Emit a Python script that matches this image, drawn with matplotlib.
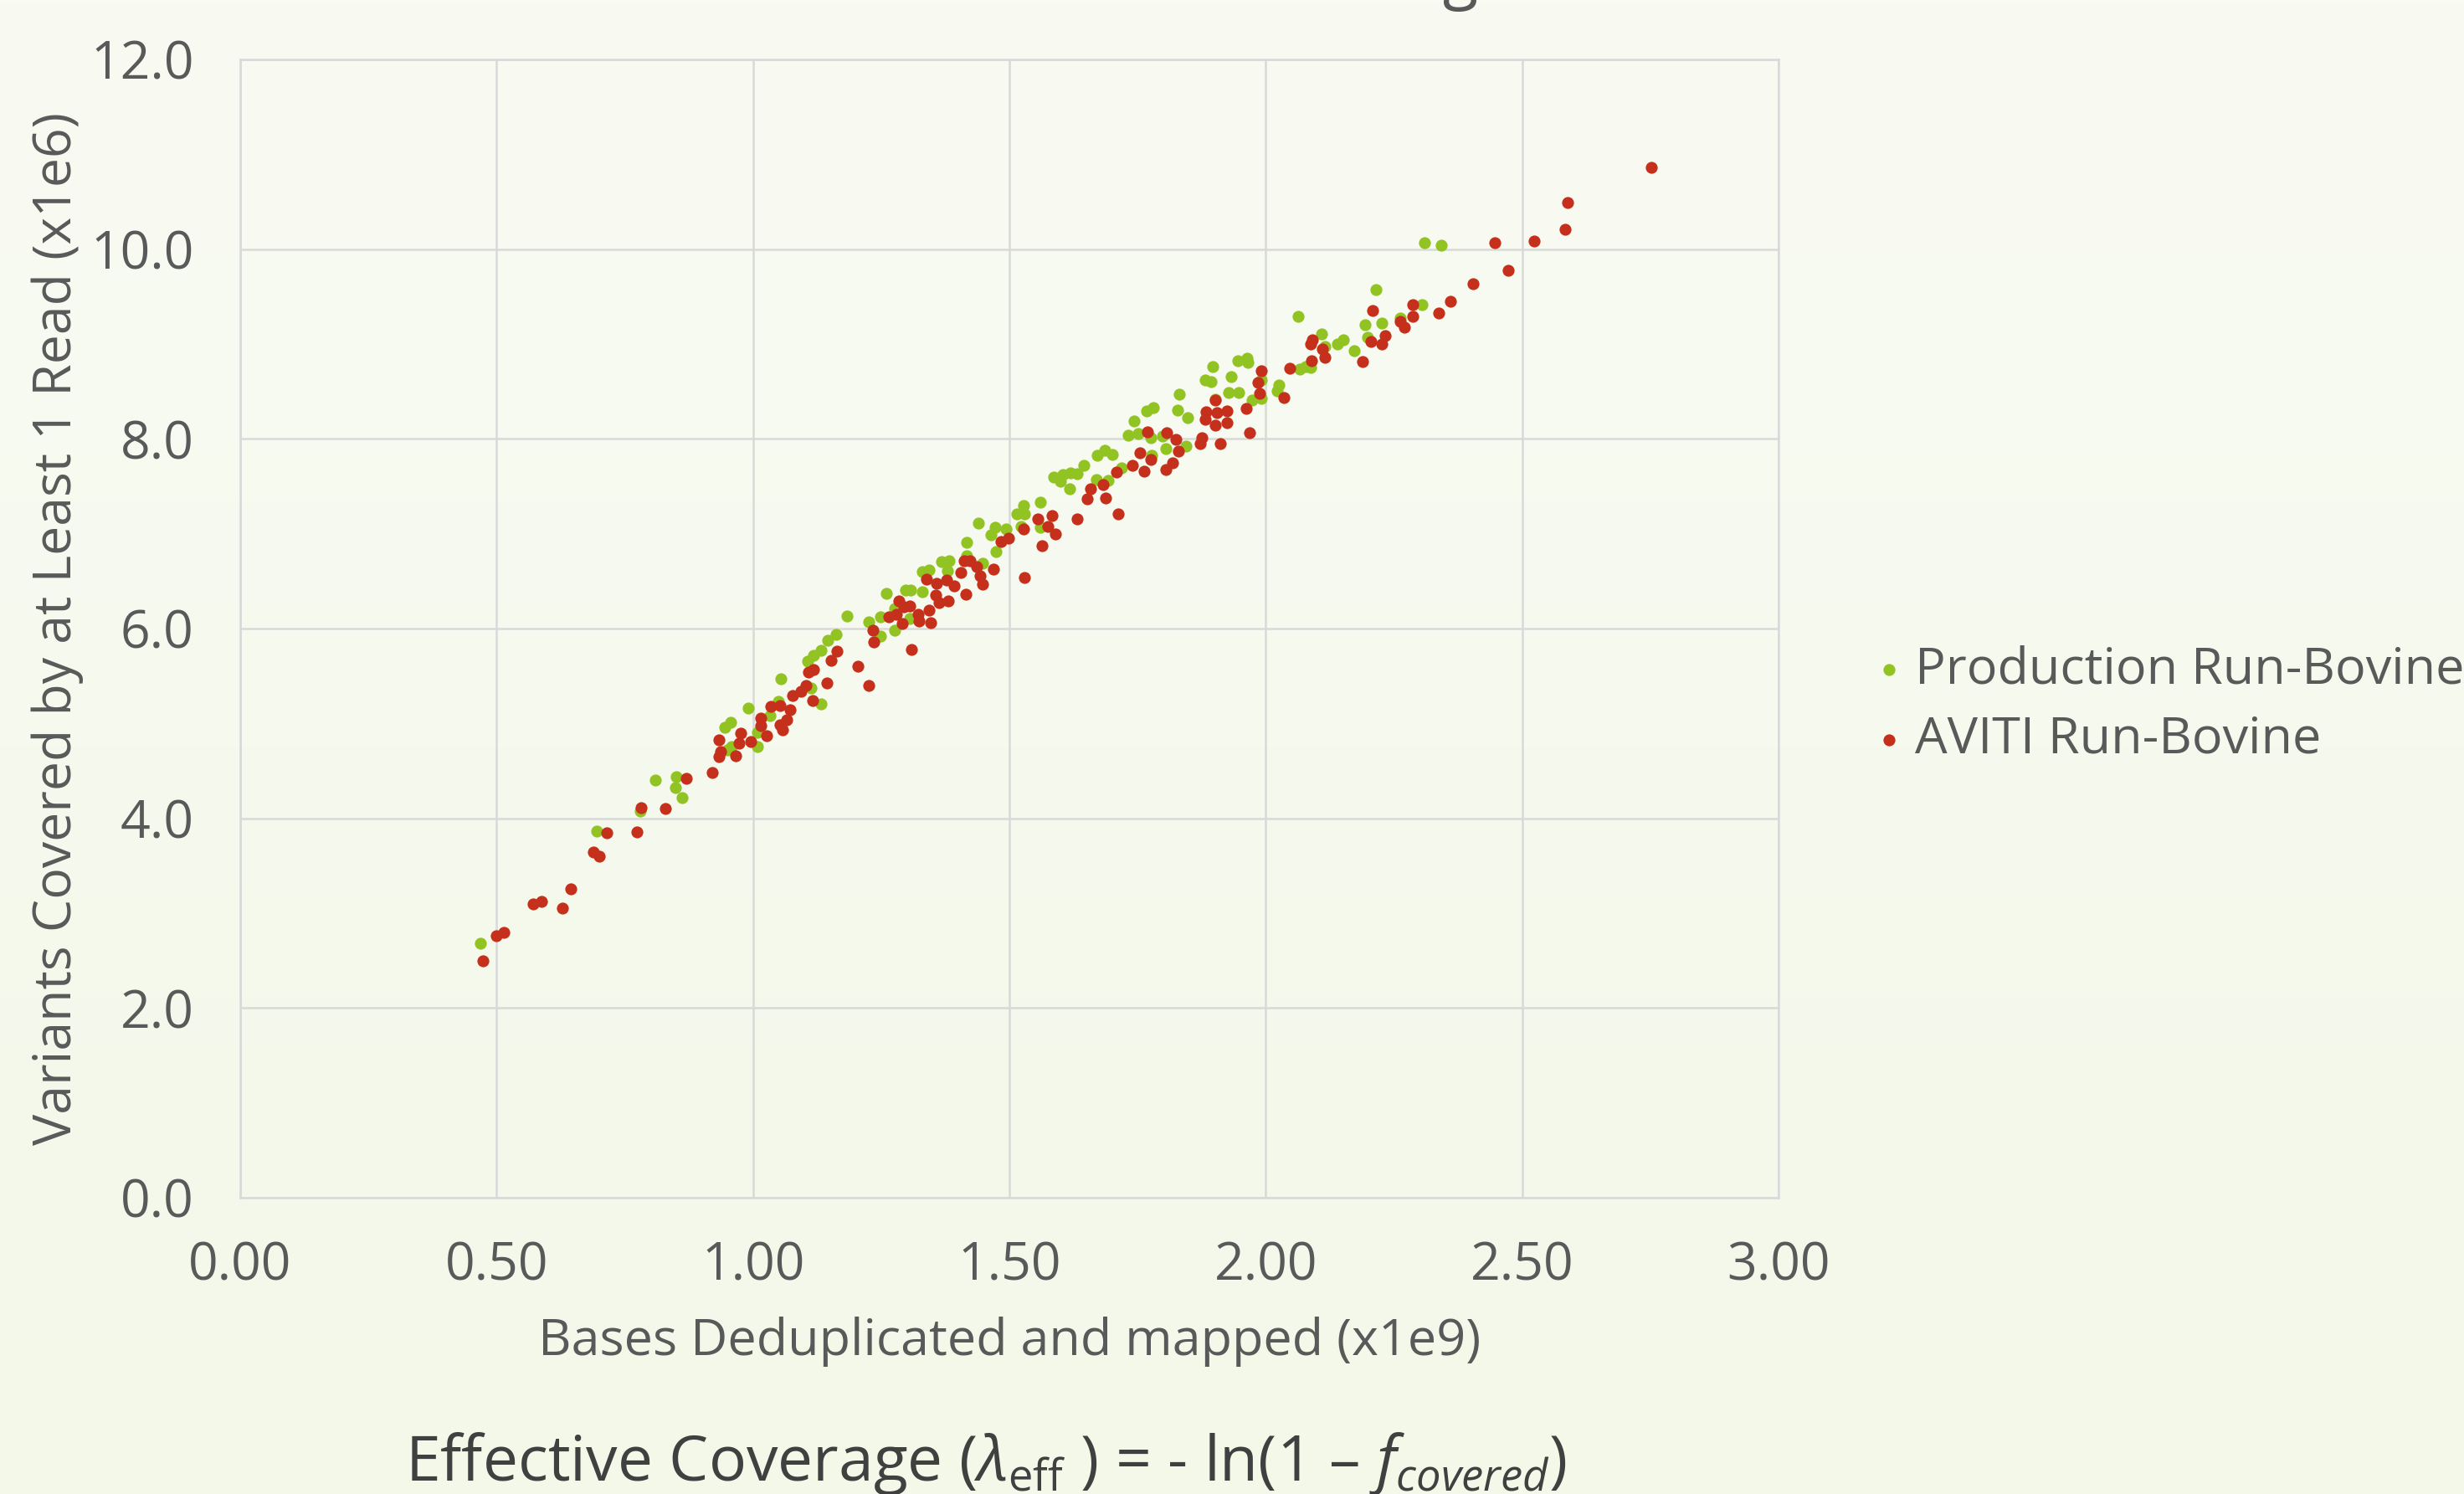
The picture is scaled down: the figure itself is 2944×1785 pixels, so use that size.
import matplotlib
matplotlib.use('Agg')
import matplotlib.pyplot as plt
import numpy as np
from matplotlib.colors import LinearSegmentedColormap

# ---------------- data ----------------
prod_x = [0.468, 0.695, 0.781, 0.810, 0.850, 0.848, 0.861, 0.945, 0.956, 0.958, 0.950,
          1.009, 1.009, 0.991, 1.034, 1.050, 1.055, 1.113,
          1.133, 1.106, 1.118, 1.132, 1.145, 1.162, 1.184, 1.226, 1.249, 1.249, 1.276,
          1.260, 1.276, 1.297, 1.308, 1.330, 1.306, 1.331, 1.343, 1.368, 1.383, 1.379,
          1.417, 1.447, 1.417, 1.439, 1.464, 1.472, 1.493, 1.474, 1.515, 1.527, 1.530,
          1.523, 1.561, 1.561, 1.586, 1.600, 1.604, 1.619, 1.617,
          1.632, 1.670, 1.692, 1.645, 1.672, 1.686, 1.701, 1.719, 1.732, 1.751, 1.743,
          1.768, 1.780, 1.776, 1.778, 1.798, 1.806, 1.828, 1.831, 1.848, 1.845, 1.882,
          1.893, 1.897, 1.901, 1.933, 1.927, 1.948, 1.946, 1.964, 1.965, 1.974, 1.991,
          1.991, 2.026, 2.023, 2.063, 2.067, 2.078, 2.087, 2.108, 2.116, 2.140, 2.151,
          2.172, 2.194, 2.199, 2.215, 2.227,
          2.263, 2.305, 2.309, 2.343]
prod_y = [2.685, 3.862, 4.076, 4.403, 4.441, 4.324, 4.215, 4.959, 5.009, 4.759, 4.720,
          4.759, 4.906, 5.165, 5.082, 5.229, 5.470, 5.376,
          5.203, 5.659, 5.718, 5.770, 5.874, 5.938, 6.132, 6.071, 6.124, 5.918, 5.982,
          6.368, 6.212, 6.403, 6.403, 6.388, 6.103, 6.600, 6.618, 6.706, 6.718, 6.609,
          6.771, 6.688, 6.909, 7.109, 6.991, 7.065, 7.050, 6.815, 7.206, 7.300, 7.206,
          7.079, 7.329, 7.065, 7.594, 7.550, 7.624, 7.638, 7.470,
          7.632, 7.574, 7.560, 7.720, 7.824, 7.882, 7.838, 7.691, 8.035, 8.059, 8.191,
          8.294, 8.329, 8.015, 7.829, 8.029, 7.897, 8.300, 8.471, 8.221, 7.926, 8.624,
          8.603, 8.759, 8.418, 8.653, 8.485, 8.485, 8.824, 8.847, 8.809, 8.412, 8.426,
          8.618, 8.565, 8.506, 9.288, 8.735, 8.765, 8.750, 9.103, 8.971, 9.000, 9.044,
          8.926, 9.206, 9.074, 9.574, 9.221,
          9.271, 9.412, 10.065, 10.041]

aviti_x = [0.474, 0.499, 0.514, 0.571, 0.587, 0.628, 0.644, 0.689, 0.701, 0.715, 0.773,
           0.782, 0.829, 0.870, 0.921, 0.933, 0.937, 0.934, 0.976, 0.972, 0.967, 0.996,
           1.015, 1.016, 1.027, 1.035, 1.053, 1.072, 1.066, 1.052, 1.058, 1.077, 1.094,
           1.103, 1.117, 1.108,
           1.144, 1.118, 1.152, 1.163, 1.205, 1.225, 1.234, 1.236, 1.265, 1.279, 1.284,
           1.291, 1.309, 1.306, 1.295, 1.322, 1.323, 1.344, 1.346, 1.339, 1.358, 1.356,
           1.363, 1.381, 1.377, 1.393, 1.405, 1.412, 1.423, 1.437, 1.443, 1.447, 1.415,
           1.469, 1.484, 1.499, 1.530, 1.527, 1.555, 1.584, 1.575, 1.590, 1.564,
           1.633, 1.712, 1.652, 1.659, 1.683, 1.688, 1.709, 1.740, 1.762, 1.754, 1.776,
           1.769, 1.807, 1.825, 1.830, 1.818, 1.805, 1.872, 1.876, 1.912, 1.902, 1.884,
           1.882, 1.905, 1.925, 1.902, 1.924, 1.962, 1.968, 1.992, 1.985, 1.988, 2.035,
           2.046, 2.089, 2.091, 2.087, 2.110, 2.115, 2.189, 2.209, 2.205, 2.227, 2.233,
           2.263, 2.270, 2.286, 2.287, 2.338, 2.360, 2.405, 2.446, 2.472, 2.523, 2.584,
           2.588, 2.752]
aviti_y = [2.500, 2.765, 2.794, 3.097, 3.120, 3.053, 3.253, 3.647, 3.597, 3.847, 3.853,
           4.109, 4.103, 4.421, 4.479, 4.826, 4.700, 4.650, 4.897, 4.788, 4.662, 4.809,
           5.053, 4.980, 4.868, 5.179, 5.191, 5.141, 5.038, 4.985, 4.935, 5.294, 5.338,
           5.397, 5.244, 5.544,
           5.426, 5.571, 5.662, 5.762, 5.600, 5.403, 5.985, 5.859, 6.124, 6.147, 6.294,
           6.050, 5.782, 6.241, 6.226, 6.153, 6.079, 6.197, 6.059, 6.520, 6.476, 6.353,
           6.270, 6.291, 6.512, 6.447, 6.594, 6.712, 6.718, 6.653, 6.559, 6.468, 6.365,
           6.629, 6.918, 6.953, 6.541, 7.050, 7.159, 7.188, 7.079, 6.997, 6.874,
           7.156, 7.206, 7.368, 7.470, 7.515, 7.374, 7.653, 7.718, 7.656, 7.853, 7.780,
           8.074, 8.065, 7.994, 7.868, 7.744, 7.676, 7.947, 8.015, 7.950, 8.406, 8.288,
           8.206, 8.279, 8.294, 8.141, 8.168, 8.324, 8.065, 8.721, 8.594, 8.476, 8.432,
           8.747, 8.824, 9.044, 9.000, 8.947, 8.859, 8.818, 9.353, 9.029, 9.000, 9.088,
           9.235, 9.176, 9.288, 9.418, 9.329, 9.453, 9.632, 10.065, 9.779, 10.082, 10.209,
           10.494, 10.865]

x_ticks = [0.0, 0.5, 1.0, 1.5, 2.0, 2.5, 3.0]
y_ticks = [0.0, 2.0, 4.0, 6.0, 8.0, 10.0, 12.0]
series_labels = ['Production Run-Bovine', 'AVITI Run-Bovine']
x_label = 'Bases Deduplicated and mapped (x1e9)'
y_label = 'Variants Covered by at Least 1 Read (x1e6)'
title_text = 'Bovine Variant Coverage'
formula = r'Effective Coverage ($\lambda_{\mathrm{eff}}$ ) = - ln(1 – $f_{covered}$)'

# ---------------- style ----------------
plt.rcParams['font.family'] = ['Open Sans', 'DejaVu Sans']
plt.rcParams['mathtext.fontset'] = 'custom'
plt.rcParams['mathtext.rm'] = 'Open Sans'
plt.rcParams['mathtext.it'] = 'Open Sans:italic'
plt.rcParams['mathtext.bf'] = 'Open Sans:bold'

TXT = '#595959'
GREEN = '#91C322'
RED = '#C4301B'
GRID = '#D9D9D9'

W, H = 2944, 1785
fig = plt.figure(figsize=(W / 100, H / 100), dpi=100)
fig.patch.set_facecolor('#F7FAEF')

bg = fig.add_axes([0, 0, 1, 1], zorder=-10)
grad = np.linspace(0, 1, 256).reshape(-1, 1)
cmap = LinearSegmentedColormap.from_list('bg', ['#F9FBF3', '#F3F8E9'])
bg.imshow(grad, aspect='auto', cmap=cmap, extent=[0, 1, 0, 1])
bg.axis('off')

ax = fig.add_axes([287 / W, 1 - 1431 / H, (2125 - 287) / W, (1431 - 71) / H])
ax.set_facecolor('none')
ax.scatter(prod_x, prod_y, s=105, c=GREEN, linewidths=0, label=series_labels[0], zorder=3)
ax.scatter(aviti_x, aviti_y, s=105, c=RED, linewidths=0, label=series_labels[1], zorder=4)

ax.set_xlim(0, 3)
ax.set_ylim(0, 12)
ax.set_xticks(x_ticks)
ax.set_xticklabels([f'{v:.2f}' for v in x_ticks])
ax.set_yticks(y_ticks)
ax.set_yticklabels([f'{v:.1f}' for v in y_ticks])
ax.set_axisbelow(True)
ax.grid(True, color=GRID, linewidth=1.8)
for s in ax.spines.values():
    s.set_color(GRID)
    s.set_linewidth(1.8)
ax.tick_params(axis='both', length=0, labelsize=45, labelcolor=TXT)
ax.tick_params(axis='x', pad=37)
ax.tick_params(axis='y', pad=40)

ax.set_xlabel(x_label, fontsize=44, color=TXT, labelpad=20)
ax.set_ylabel(y_label, fontsize=45, color=TXT, labelpad=6)

fig.legend(loc='center left', bbox_to_anchor=(2205 / W, 1 - 842 / H), frameon=False,
           fontsize=44, labelcolor=TXT, handletextpad=0.15, handlelength=0.7,
           labelspacing=0.38, borderpad=0, scatterpoints=1)

# bottom formula (cut by the figure edge)
fig.text(484 / W, 1 - 1769 / H, formula, fontsize=54, color='#404040',
         ha='left', va='baseline')

# title mostly above the figure: only a descender is visible
r = fig.canvas.get_renderer()
tp = fig.text(0, 0, title_text[:-2], fontsize=56)
w_pre = tp.get_window_extent(r).width
tp.remove()
tg = fig.text(0, 0, 'g', fontsize=56)
w_g = tg.get_window_extent(r).width
tg.remove()
x_left = 1745 - w_pre - w_g / 2
fig.text(x_left / W, 1 + 5 / H, title_text, fontsize=56, color=TXT, ha='left', va='baseline')

fig.savefig('out.png', dpi=100, facecolor=fig.get_facecolor())
